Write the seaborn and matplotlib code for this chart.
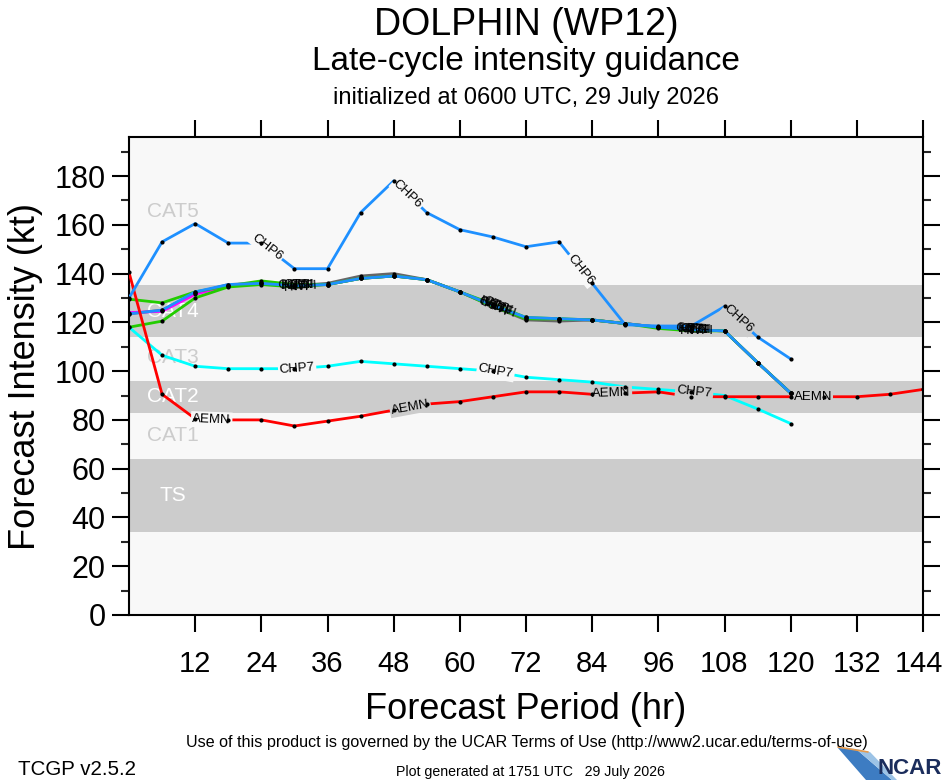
import numpy as np
import pandas as pd
import matplotlib
matplotlib.use('Agg')
import matplotlib.pyplot as plt
import matplotlib.transforms as mtransforms
import seaborn as sns
from matplotlib import font_manager
from matplotlib.patches import Polygon

# forecast hours (6-hourly)
hours = list(range(0, 145, 6))

# model intensities (kt)
chp6 = [130, 153, 160.5, 152.5, 152.5, 142, 142, 165, 178, 165, 158, 155, 151, 153, 136, 119, 118.5, 118.5, 126.5, 114, 105]
chp7 = [118, 106.5, 102, 101, 101, 101, 102, 104, 103, 102, 101, 100, 97.5, 96.5, 95.5, 93.5, 92.5, 91.5, 90, 84.5, 78.5]
aemn = [140.5, 90.5, 80.5, 80, 80, 77.5, 79.5, 81.5, 84, 86.5, 87.5, 89.5, 91.5, 91.5, 90.5, 91, 91.5, 89.5, 89.5, 89.5, 89.5, 89.5, 89.5, 90.5, 92.5]
ivcn = [123.5, 125, 132.5, 135.5, 136, 135, 135.5, 138, 139, 137.5, 132.5, 127, 122, 121.5, 121, 119.5, 118, 117, 116.5, 103.5, 91]
hfbi = [124, 124.5, 131.5, 135, 136, 135, 135.5, 138, 139, 137.5, 132.5, 127, 121.8, 121.3, 121, 119.5, 118, 117, 116.5, 103.5, 91]
ctci = [129.5, 128, 132.5, 135, 137, 135.5, 135.5, 138, 139, 137.5, 132.5, 127.5, 122, 121.5, 121, 119.5, 118, 117, 116.5, 103.5, 91]
hwfi = [118, 120.5, 130, 134.5, 135.5, 134.5, 135.5, 138, 139, 137.5, 132.5, 126.5, 121.5, 121.3, 121, 119.5, 117.5, 116.5, 116.5, 103.5, 91]
coti = [123.5, 125, 132, 135.5, 136, 135, 136, 139, 140, 137.5, 132.5, 126.5, 121, 120.5, 121, 119.5, 118, 117, 116.5, 103.5, 91]

# model colours, drawing order and where the inline labels sit (hours)
colors = {'COTI': '#666666', 'HFBI': '#ff00ff', 'CTCI': '#22cc00', 'HWFI': '#22cc00',
          'IVCN': '#1e90ff', 'CHP7': '#00ffff', 'AEMN': '#ff0000', 'CHP6': '#1e90ff'}
label_hours = {'COTI': [29.8, 66.0, 102.0], 'HFBI': [30.3, 66.3, 102.3], 'CTCI': [30.8, 66.8, 102.8],
               'HWFI': [31.2, 67.2, 103.0], 'IVCN': [30.5, 66.5, 102.5],
               'CHP7': [30.5, 66.5, 102.5], 'AEMN': [15, 51, 87.5, 124], 'CHP6': [25, 50.5, 82, 110.5]}

series = {'COTI': coti, 'HFBI': hfbi, 'CTCI': ctci, 'HWFI': hwfi, 'IVCN': ivcn,
          'CHP7': chp7, 'AEMN': aemn, 'CHP6': chp6}
cluster = ['COTI', 'HFBI', 'CTCI', 'HWFI', 'IVCN']

df = pd.concat([pd.DataFrame({'hour': hours[:len(v)], 'vmax': v, 'model': k}) for k, v in series.items()],
               ignore_index=True)

# Saffir-Simpson bands
bands = [(34, 64), (83, 96), (113.8, 135.4)]
cat_names = ['TS', 'CAT1', 'CAT2', 'CAT3', 'CAT4', 'CAT5']
cat_levels = [49, 73.5, 89.5, 105.5, 124.5, 165.5]

sns.set_theme(style='white')
names = {f.name for f in font_manager.fontManager.ttflist}
narrow = 'Liberation Sans Narrow' if 'Liberation Sans Narrow' in names else 'Liberation Sans'
plt.rcParams['font.family'] = ['Liberation Sans', 'DejaVu Sans']
plt.rcParams['text.color'] = 'black'
plt.rcParams['axes.labelcolor'] = 'black'

BG = '#f8f8f8'
GRAY = '#cccccc'

fig = plt.figure(figsize=(9.46, 7.80), dpi=100)
fig.patch.set_facecolor('white')
ax = fig.add_axes([129 / 946, 1 - 615 / 780, (923 - 129) / 946, (615 - 137) / 780])
ax.set_facecolor(BG)
ax.set_xlim(0, 144)
ax.set_ylim(0, 196)

for lo, hi in bands:
    ax.axhspan(lo, hi, color=GRAY, lw=0, zorder=0)


def in_band(y):
    return any(lo <= y <= hi for lo, hi in bands)


for name, lev in zip(cat_names, cat_levels):
    ax.text(8, lev, name, ha='center', va='center', fontsize=15,
            color='white' if in_band(lev) else GRAY, zorder=1)

# lines, then black dots at each forecast time
for i, name in enumerate(series):
    sub = df[df['model'] == name]
    sns.lineplot(data=sub, x='hour', y='vmax', color=colors[name], lw=2, ax=ax,
                 zorder=2 + i * 0.1, legend=False)
sns.scatterplot(data=df, x='hour', y='vmax', color='black', s=9, linewidth=0, ax=ax, zorder=5, legend=False)


def put_label(name, h):
    ys = series[name]
    xs = hours[:len(ys)]
    y = np.interp(h, xs, ys)
    k = int(min(max(np.searchsorted(xs, h) - 1, 0), len(xs) - 2))
    p0, p1 = ax.transData.transform([(xs[k], ys[k]), (xs[k + 1], ys[k + 1])])
    ang = np.degrees(np.arctan2(p1[1] - p0[1], p1[0] - p0[0]))
    kw = {}
    if name not in cluster:
        kw['bbox'] = dict(facecolor=GRAY if in_band(y) else BG, edgecolor='none', pad=1.0)
    ax.text(h, y, name, ha='center', va='center', rotation=ang, rotation_mode='anchor',
            fontsize=9.5, color='black', zorder=4.5, **kw)


for name, hs in label_hours.items():
    for h in hs:
        put_label(name, h)

ax.set_xticks(range(12, 145, 12))
ax.set_yticks(range(0, 181, 20))
ax.set_yticks(range(10, 196, 10), minor=True)
ax.tick_params(axis='both', which='major', direction='out', length=12, width=1.5,
               labelsize=22, color='black', labelcolor='black')
ax.tick_params(axis='x', labelsize=21, top=True, bottom=True, pad=13)
ax.tick_params(axis='y', which='minor', direction='out', length=6, width=1.5, left=True, right=True)
ax.tick_params(axis='y', left=True, right=True, pad=5)
for sp in ax.spines.values():
    sp.set_visible(True)
    sp.set_color('black')
    sp.set_linewidth(1.5)

# nudge the last hour label so it stays on the page
last = ax.get_xticklabels()[-1]
last.set_transform(last.get_transform() + mtransforms.ScaledTranslation(-4 / 100, 0, fig.dpi_scale_trans))

ax.set_xlabel('Forecast Period (hr)', fontsize=26, labelpad=10)
ax.set_ylabel('Forecast Intensity (kt)', fontsize=26, labelpad=8)

# header
fig.text(526 / 946, 1 - 35 / 780, 'DOLPHIN (WP12)', ha='center', va='baseline', fontsize=27)
fig.text(526 / 946, 1 - 70 / 780, 'Late-cycle intensity guidance', ha='center', va='baseline', fontsize=24)
fig.text(526 / 946, 1 - 104 / 780, 'initialized at 0600 UTC, 29 July 2026', ha='center', va='baseline', fontsize=17)

# footer
fig.text(527 / 946, 1 - 747 / 780,
         'Use of this product is governed by the UCAR Terms of Use (http://www2.ucar.edu/terms-of-use)',
         ha='center', va='baseline', fontsize=11.6, family=narrow)
fig.text(18 / 946, 1 - 775 / 780, 'TCGP v2.5.2', ha='left', va='baseline', fontsize=14.8, family=narrow)
fig.text(530 / 946, 1 - 776 / 780, 'Plot generated at 1751 UTC   29 July 2026', ha='center', va='baseline',
         fontsize=10.2, family=narrow)

# NCAR logo
def px(x, y):
    return (x / 946, 1 - y / 780)

fig.patches.append(Polygon([px(838, 748), px(856, 749), px(892, 780), px(866, 780)], closed=True,
                           transform=fig.transFigure, facecolor='#3d7cc2', edgecolor='none'))
fig.patches.append(Polygon([px(856, 749), px(870, 752), px(897, 780), px(892, 780)], closed=True,
                           transform=fig.transFigure, facecolor='#9cc3e6', edgecolor='none'))
fig.lines.append(matplotlib.lines.Line2D([838 / 946, 868 / 946], [1 - 747 / 780, 1 - 752 / 780],
                                         transform=fig.transFigure, color='#e89a4a', lw=1.2))
fig.text(942 / 946, 1 - 774 / 780, 'NCAR', ha='right', va='baseline', fontsize=16, weight='bold',
         color='#1b2d5c', family=narrow)

plt.savefig('out.png', dpi=100)
